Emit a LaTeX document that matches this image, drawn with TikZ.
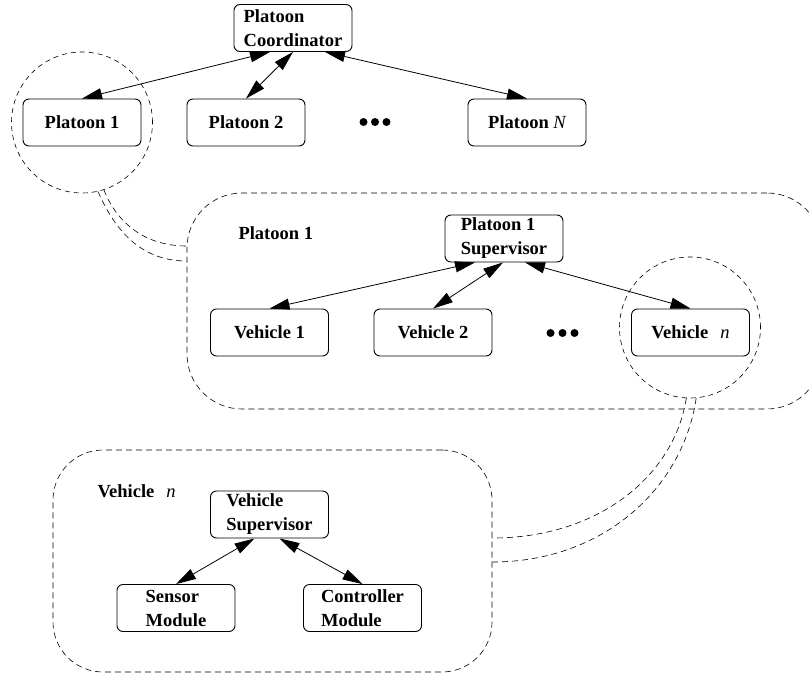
\documentclass[tikz,border=0pt]{standalone}
\usepackage{fontspec}
\setmainfont{Liberation Serif}
\usepackage{tikz}
\usetikzlibrary{arrows.meta,calc,positioning}

\newcommand{\vehn}{Vehicle\hspace{12pt}{\mdseries\itshape n}}

\begin{document}
\begin{tikzpicture}[x=1pt, y=-1pt,
  every node/.style={font=\bfseries\fontsize{18.5}{24}\selectfont},
  blk/.style={draw, line width=0.9pt, rounded corners=6pt, minimum width=118pt, minimum height=47pt, inner sep=0pt, align=left},
  grp/.style={draw, line width=0.6pt, dash pattern=on 6pt off 4pt, rounded corners=#1, inner sep=0pt},
  zoomc/.style={draw, circle, line width=0.6pt, dash pattern=on 5pt off 4pt, minimum size=#1, inner sep=0pt},
  link/.style={line width=0.6pt, dash pattern=on 6pt off 4pt},
  dup/.style={{Triangle[length=20pt,width=11pt]}-{Triangle[length=20pt,width=11pt]}, line width=0.8pt}]
\useasboundingbox (0,0) rectangle (811,677);

% --- livello 1: coordinatore e plotoni ---
\node[blk] (pc) at (293,28) {Platoon\\Coordinator};
\node[blk] (p1) at (82,122.5) {Platoon 1};
\node[blk] (p2) at (246,122.5) {Platoon 2};
\node[blk] (pN) at (527,122.5) {Platoon {\mdseries\itshape N}};
\coordinate (dotsA) at (375,122);
\foreach \dx in {-11.5,0,11.5} \fill ($(dotsA)+(\dx,0)$) circle (4pt);
\draw[dup] ($(pc.south)+(-23,0)$) -- (p1.north);
\draw[dup] (pc.south) -- (p2.north);
\draw[dup] ($(pc.south)+(32,0)$) -- (pN.north);
\node[zoomc=141pt] (zoomA) at (p1.center) {};

% --- livello 2: dentro il plotone 1 ---
\node[grp=55pt, minimum width=635pt, minimum height=216pt] (grpP) at (504.5,301) {};
\node[anchor=base west] (lblP) at (235,239) {Platoon 1};
\node[blk] (ps) at (504,238.5) {Platoon 1\\Supervisor};
\node[blk] (v1) at (269.5,332.5) {Vehicle 1};
\node[blk] (v2) at (433,332.5) {Vehicle 2};
\node[blk] (vn) at (690.5,332.5) {\vehn};
\coordinate (dotsB) at (562.5,333);
\foreach \dx in {-12,0,12} \fill ($(dotsB)+(\dx,0)$) circle (4pt);
\draw[dup] ($(ps.south)+(-29,0)$) -- (v1.north);
\draw[dup] ($(ps.south)+(-1,0)$) -- (v2.north);
\draw[dup] ($(ps.south)+(21,0)$) -- (vn.north);
\node[zoomc=141pt] (zoomB) at (690,327.5) {};

% raccordi tratteggiati cerchio -> riquadro
\draw[link] (zoomA.-77) .. controls ($(zoomA.-77)+(16,36)$) and ($(grpP.west)+(-48,-40)$) .. ($(grpP.west)+(0,-40)$);
\draw[link] (zoomA.-72) .. controls ($(zoomA.-72)+(13,33)$) and ($(grpP.west)+(-42,-55)$) .. ($(grpP.west)+(0,-55)$);

% --- livello 3: dentro il veicolo n ---
\node[grp=50pt, minimum width=439pt, minimum height=222pt] (grpV) at (272.5,561) {};
\node[anchor=base west] (lblV) at (94,497) {\vehn};
\node[blk] (vs) at (269.5,514.5) {Vehicle\\Supervisor};
\node[blk] (sm) at (176,608) {Sensor\\Module};
\node[blk] (cm) at (362.5,608) {Controller\\Module};
\draw[dup] ($(vs.south)+(-15,0)$) -- (sm.north);
\draw[dup] ($(vs.south)+(10,0)$) -- (cm.north);

\draw[link] (zoomB.-93) .. controls ($(zoomB.-93)+(-12,77)$) and ($(grpV.east)+(107,-23)$) .. ($(grpV.east)+(0,-23)$);
\draw[link] (zoomB.-85) .. controls ($(zoomB.-85)+(-13,90)$) and ($(grpV.east)+(111,1)$) .. ($(grpV.east)+(0,1)$);
\end{tikzpicture}
\end{document}
